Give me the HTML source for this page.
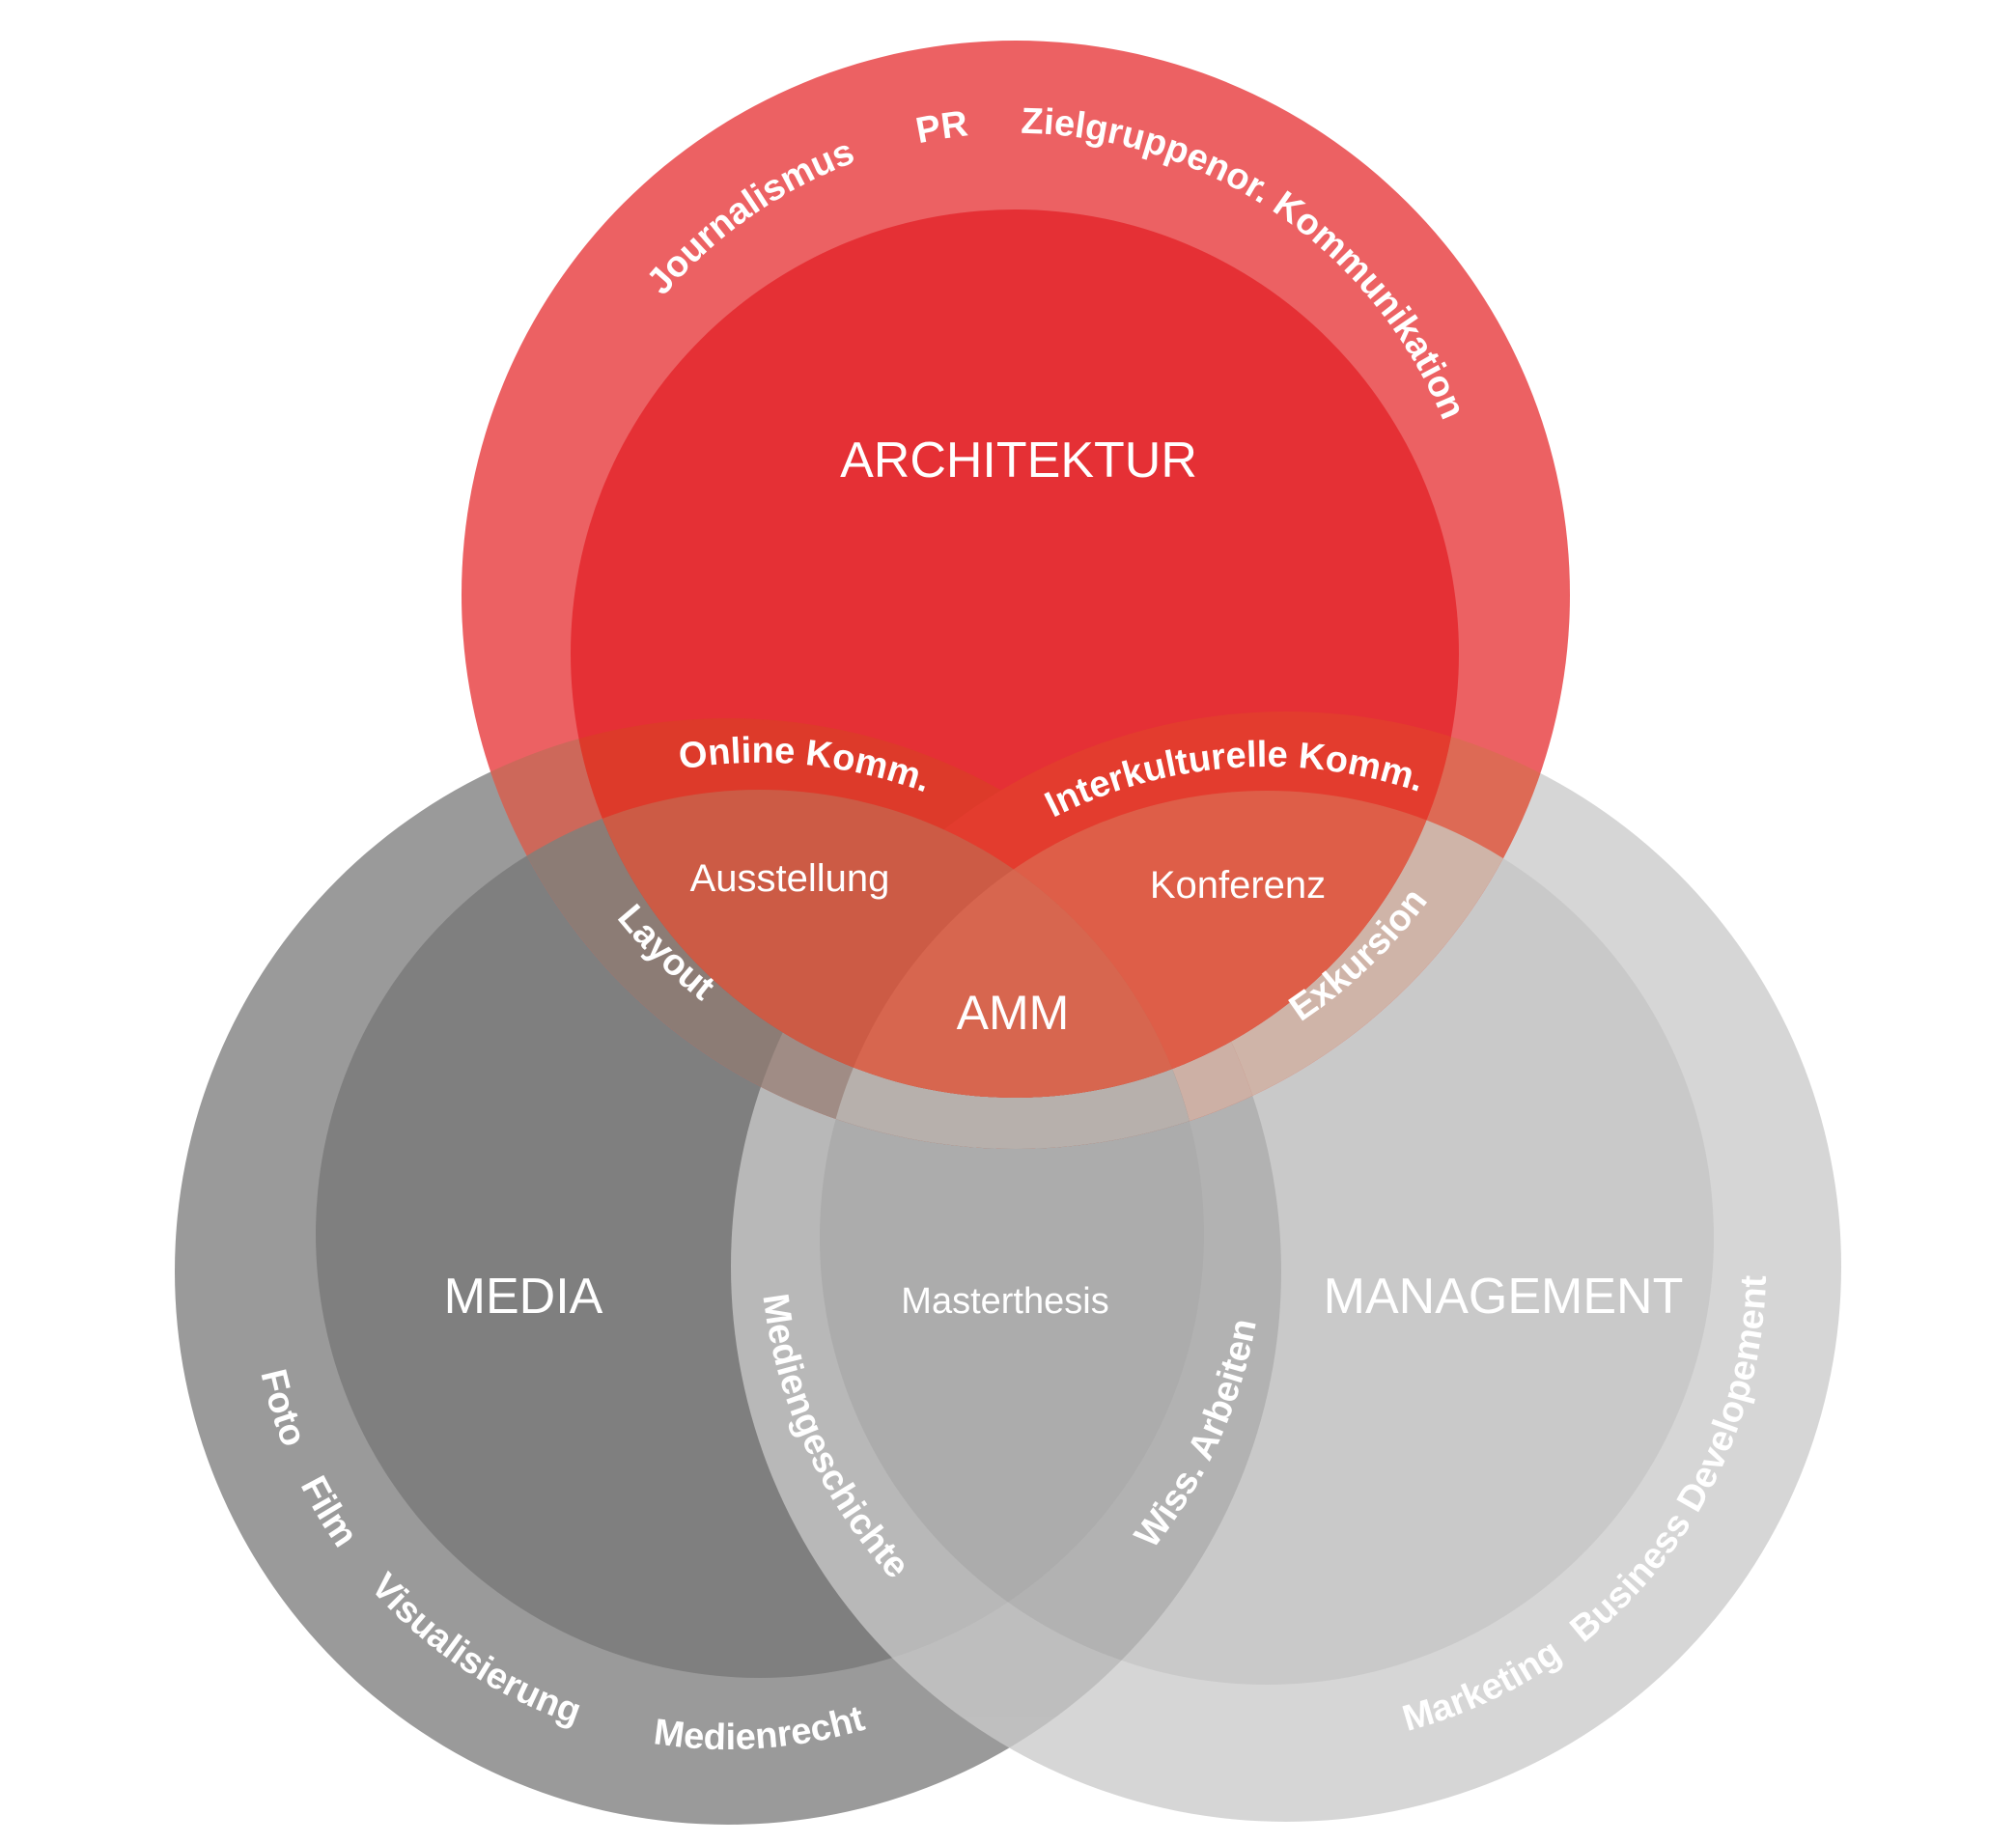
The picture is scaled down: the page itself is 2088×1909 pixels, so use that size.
<!DOCTYPE html>
<html><head><meta charset="utf-8"><style>
html,body{margin:0;padding:0;background:#fff;}
svg{display:block;}
text{font-family:"Liberation Sans",sans-serif;fill:#fff;}
.b{font-weight:bold;font-size:38px;}
</style></head><body>
<svg width="2088" height="1909" viewBox="0 0 2088 1909" xmlns="http://www.w3.org/2000/svg">
<defs>
<clipPath id="cRO"><circle cx="1052" cy="616" r="574"/></clipPath>
<clipPath id="cRI"><circle cx="1051" cy="677" r="460"/></clipPath>
<clipPath id="cDO"><circle cx="754" cy="1317" r="573"/></clipPath>
<clipPath id="cDI"><circle cx="787" cy="1278" r="460"/></clipPath>
<path id="p1" d="M574,616 A478,478 0 1 1 1530,616 A478,478 0 1 1 574,616"/>
<path id="p2" d="M299,1278 A488,488 0 1 1 1275,1278 A488,488 0 1 1 299,1278"/>
<path id="p3" d="M824,1282 A488,488 0 1 1 1800,1282 A488,488 0 1 1 824,1282"/>
<path id="p4" d="M520,616 A532,532 0 1 0 1584,616 A532,532 0 1 0 520,616"/>
<path id="p5" d="M259,1317 A495,495 0 1 0 1249,1317 A495,495 0 1 0 259,1317"/>
<path id="p6" d="M835,1312 A497,497 0 1 0 1829,1312 A497,497 0 1 0 835,1312"/>
<path id="p7" d="M787,1282 A525,525 0 1 0 1837,1282 A525,525 0 1 0 787,1282"/>
<path id="p8" d="M265,1278 A522,522 0 1 0 1309,1278 A522,522 0 1 0 265,1278"/>
</defs>
<circle cx="754" cy="1317" r="573" fill="#9a9a9a"/>
<circle cx="787" cy="1278" r="460" fill="#7f7f7f"/>
<g opacity="0.77">
<circle cx="1332" cy="1312" r="575" fill="#cacaca"/>
<circle cx="1312" cy="1282" r="463" fill="#bababa"/>
</g>
<g clip-path="url(#cRO)">
<rect x="0" y="0" width="2088" height="1909" fill="#ec6163"/>
<circle cx="754" cy="1317" r="573" fill="#cd685a"/>
<circle cx="1332" cy="1312" r="575" fill="#dd6a55"/>
<circle cx="1312" cy="1282" r="463" fill="#cfb4a8"/>
<g clip-path="url(#cDO)">
<circle cx="1332" cy="1312" r="575" fill="#c86e5e"/>
<circle cx="1312" cy="1282" r="463" fill="#cdb0a5"/>
</g>
<g clip-path="url(#cDI)">
<rect x="0" y="0" width="2088" height="1909" fill="#8c7c75"/>
<circle cx="1332" cy="1312" r="575" fill="#a08c85"/>
<circle cx="1312" cy="1282" r="463" fill="#b7b0ac"/>
</g>
</g>
<g clip-path="url(#cRI)">
<rect x="0" y="0" width="2088" height="1909" fill="#e53035"/>
<circle cx="754" cy="1317" r="573" fill="#dd3a2a"/>
<circle cx="1332" cy="1312" r="575" fill="#e33c2e"/>
<circle cx="1312" cy="1282" r="463" fill="#de5e48"/>
<g clip-path="url(#cDI)">
<rect x="0" y="0" width="2088" height="1909" fill="#cc5b45"/>
<circle cx="1312" cy="1282" r="463" fill="#d7664f"/>
</g>
</g>
<text x="1055" y="494" font-size="52" text-anchor="middle">ARCHITEKTUR</text>
<text x="542" y="1360" font-size="52" text-anchor="middle">MEDIA</text>
<text x="1557" y="1360" font-size="52" text-anchor="middle">MANAGEMENT</text>
<text x="1049" y="1066" font-size="50" text-anchor="middle">AMM</text>
<text x="1041" y="1360" font-size="38" text-anchor="middle">Masterthesis</text>
<text x="818" y="923" font-size="40" text-anchor="middle">Ausstellung</text>
<text x="1282" y="930" font-size="40" text-anchor="middle">Konferenz</text>
<text class="b" text-anchor="middle"><textPath href="#p1" startOffset="459">Journalismus</textPath></text>
<text class="b" text-anchor="middle"><textPath href="#p1" startOffset="676">PR</textPath></text>
<text class="b" text-anchor="middle"><textPath href="#p1" startOffset="1037">Zielgruppenor. Kommunikation</textPath></text>
<text class="b" text-anchor="middle"><textPath href="#p2" startOffset="813">Online Komm.</textPath></text>
<text class="b" text-anchor="middle"><textPath href="#p3" startOffset="732">Interkulturelle Komm.</textPath></text>
<text class="b" text-anchor="middle"><textPath href="#p4" startOffset="424">Layout</textPath></text>
<text class="b" text-anchor="middle"><textPath href="#p4" startOffset="1240">Exkursion</textPath></text>
<text class="b" text-anchor="middle"><textPath href="#p5" startOffset="147">Foto</textPath></text>
<text class="b" text-anchor="middle"><textPath href="#p5" startOffset="268">Film</textPath></text>
<text class="b" text-anchor="middle"><textPath href="#p5" startOffset="487">Visualisierung</textPath></text>
<text class="b" text-anchor="middle"><textPath href="#p5" startOffset="811">Medienrecht</textPath></text>
<text class="b" text-anchor="middle"><textPath href="#p6" startOffset="997">Marketing</textPath></text>
<text class="b" text-anchor="middle"><textPath href="#p6" startOffset="1332">Business Developement</textPath></text>
<text class="b" text-anchor="middle"><textPath href="#p7" startOffset="225">Mediengeschichte</textPath></text>
<text class="b" text-anchor="middle"><textPath href="#p8" startOffset="1417">Wiss. Arbeiten</textPath></text>
</svg>
</body></html>
